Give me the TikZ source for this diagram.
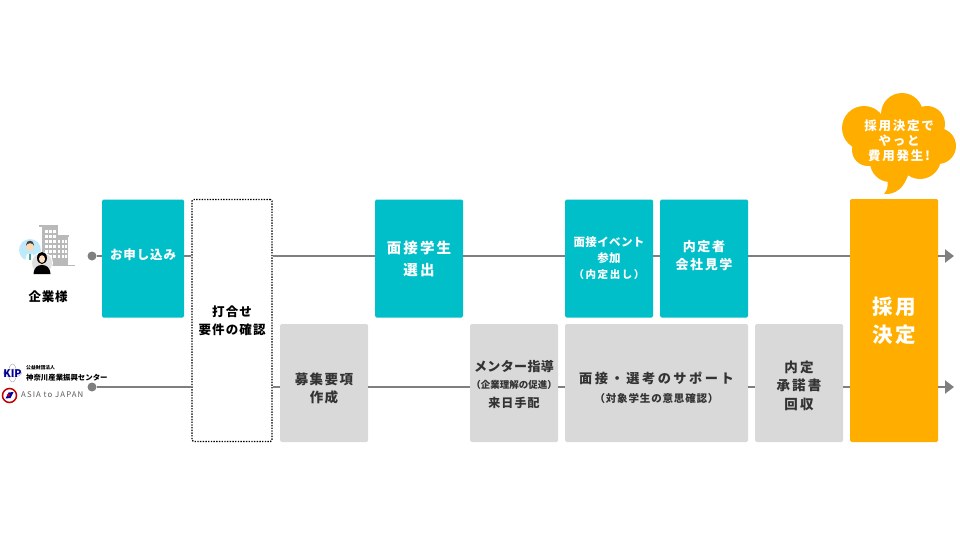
\documentclass[tikz,border=0pt]{standalone}
\usepackage{fontspec}
\setmainfont{Noto Sans CJK JP}
\usetikzlibrary{arrows.meta}
\definecolor{tealbox}{HTML}{00BFC9}
\definecolor{greybox}{HTML}{D9D9D9}
\definecolor{orangebox}{HTML}{FFAE00}
\definecolor{flowgrey}{HTML}{7F7F7F}
\definecolor{inkgrey}{HTML}{333333}
\newcommand{\myfontbox}[3]{\fontsize{#1}{#2}\selectfont\addfontfeature{LetterSpace=#3}\bfseries}
\tikzset{
	basebox/.style={minimum height=118pt,inner sep=0pt,rounded corners=1.5pt,align=center},
	tealcell/.style={basebox,minimum width=88pt,fill=tealbox,text=white},
	greycell/.style={basebox,minimum width=88pt,fill=greybox,text=inkgrey},
	flowline/.style={draw=flowgrey,line width=2.4pt},
	flowdot/.style={circle,fill=flowgrey,minimum size=9pt,inner sep=0pt},
}
\begin{document}
\begin{tikzpicture}[x=1pt,y=-1pt]
	\useasboundingbox (0,0) rectangle (960,540);
	%Start dots and free ends of the two flows
	\node [flowdot] (dotClient) at (92,256) {};
	\node [flowdot] (dotAgent) at (92,387) {};
	\coordinate (endClient) at (954,256);
	\coordinate (endAgent) at (954,387);
	%Upper row
	\node [tealcell,minimum width=82pt,font=\myfontbox{12.5}{18}{7}] (apply) at (143,258.5) {お申し込み\rule[-9pt]{0pt}{9pt}};
	\node [tealcell,font=\myfontbox{14.5}{22}{14}] (select) at (419,258.5) {面接学生\\選出};
	\node [tealcell,font=\myfontbox{11.5}{16}{3}] (event) at (609,258.5) {面接イベント\\参加\\{\fontsize{10.5}{16}\selectfont\addfontfeature{LetterSpace=15}（内定出し）}\rule[-2pt]{0pt}{2pt}};
	\node [tealcell,font=\myfontbox{13}{18}{12}] (visit) at (704,258.5) {内定者\\会社見学\rule[-8pt]{0pt}{8pt}};
	%Lower row
	\node [greycell,font=\myfontbox{13.5}{18}{11}] (recruit) at (324,383) {\rule{0pt}{22pt}募集要項\\作成};
	\node [greycell,font=\myfontbox{13}{17}{3}] (mentor) at (514,383) {\rule{0pt}{14pt}メンター指導\\{\fontsize{9.5}{16}\selectfont\addfontfeature{LetterSpace=0}（企業理解の促進）}\\[2pt]{\fontsize{12}{16}\selectfont\addfontfeature{LetterSpace=9}来日手配}};
	\node [greycell,minimum width=183pt,font=\myfontbox{13.2}{19}{19}] (support) at (656.5,383) {\rule{0pt}{21pt}面接・選考のサポート\\{\fontsize{10.5}{19}\selectfont\addfontfeature{LetterSpace=8}（対象学生の意思確認）}};
	\node [greycell,font=\myfontbox{13.5}{18.5}{16}] (accept) at (799,383) {\rule{0pt}{17pt}内定\\承諾書\\回収};
	%Tall boxes
	\node [basebox,minimum width=80pt,minimum height=242pt,draw=black,line width=1.2pt,dash pattern=on 1.4pt off 1.3pt,fill=white,text=black,font=\myfontbox{12.5}{18}{9}] (meeting) at (232,320.5) {打合せ\\要件の確認};
	\node [basebox,minimum width=88pt,minimum height=243pt,fill=orangebox,text=white,font=\myfontbox{20.5}{28}{14}] (decide) at (894,320.5) {採用\\決定};
	%Connectors between the boxes
	\foreach \a/\b in {dotClient/apply,apply/meeting,meeting/select,select/event,event/visit,visit/decide} {
		\draw [flowline] (\a.east |- dotClient) -- (\b.west |- dotClient);
	}
	\foreach \a/\b in {dotAgent/meeting,meeting/recruit,recruit/mentor,mentor/support,support/accept,accept/decide} {
		\draw [flowline] (\a.east |- dotAgent) -- (\b.west |- dotAgent);
	}
	\draw [flowline,-{Triangle[length=9pt,width=13pt]}] (decide.east |- endClient) -- (endClient);
	\draw [flowline,-{Triangle[length=9pt,width=13pt]}] (decide.east |- endAgent) -- (endAgent);
	%Speech cloud
	\fill [orangebox] (864,128) circle (22) (902,114) circle (21) (927,124) circle (18) (938,146) circle (18)
		(920,158) circle (21) (890,162) circle (20) (868,150) circle (16) (900,140) circle (32);
	\fill [orangebox] (886,172) .. controls (889,183) and (888,190) .. (884,194) .. controls (895,195) and (905,188) .. (909,172) -- cycle;
	\node [text=white,align=center,inner sep=0pt,font=\myfontbox{12.5}{15}{14}] (cloudText) at (899,141) {採用決定で\\やっと\\費用発生!};
	%Client icon
	\fill [gray!55] (39,225) rectangle (58,227);
	\fill [gray!55] (42,227) rectangle (58,265);
	\fill [gray!55] (54,235) rectangle (69,237);
	\fill [gray!55] (56,237) rectangle (68,265);
	\fill [gray!55] (45,264.5) rectangle (75,265.5);
	\foreach \x in {45,49,53} {
		\foreach \y in {230,235,...,255} {
			\fill [white] (\x,\y) rectangle ++(2.6,3);
		}
	}
	\foreach \x in {58,61.5,65} {
		\foreach \y in {240,245,...,255} {
			\fill [white] (\x,\y) rectangle ++(2,3);
		}
	}
	\fill [cyan!25] (30,250) circle (11);
	\fill [black!75] (30,244.5) circle (3.8);
	\fill [orange!30] (30,247) circle (3.8);
	\fill [white] (25,261) -- (35,261) -- (33,254) -- (27,254) -- cycle;
	\fill [teal!70] (29.3,254) rectangle (30.7,260);
	\fill [white] (42,263) circle (11);
	\fill [gray!25] (42,263) circle (10);
	\fill [black] (42,258) ellipse (5 and 6);
	\fill [orange!25] (42,259) ellipse (3 and 3.8);
	\fill [black] (33.5,274) .. controls (34,267) and (38,265) .. (42,265) .. controls (46,265) and (50,267) .. (50.5,274) -- cycle;
	\node [inner sep=0pt,text=black,font=\myfontbox{12.5}{15}{6}] (clientName) at (48,297) {企業様};
	%Agent logos
	\draw [gray!70,line width=0.4pt] (12.5,373) ellipse (9 and 4) (12.5,373) ellipse (4 and 9);
	\node [inner sep=0pt,text=blue!60!black,font=\myfontbox{10.5}{11}{0}] (logoKip) at (12.5,373.5) {KIP};
	\node [inner sep=0pt,anchor=west,text=black,font=\myfontbox{4.8}{6}{0}] (logoKipSmall) at (26,368) {公益財団法人};
	\node [inner sep=0pt,anchor=west,text=black,font=\myfontbox{7.4}{8}{0}] (logoKipName) at (26,377.6) {神奈川産業振興センター};
	\draw [red!75!black,line width=1.5pt,fill=white] (9.5,395.5) circle (7);
	\fill [blue!65!black] (5.5,398.5) -- (8.5,392.5) -- (13.5,392) -- (10.5,398) -- cycle;
	\fill [red!80!black] (8.5,395) circle (1.6);
	\node [inner sep=0pt,anchor=west,text=black!65,font=\fontsize{7.8}{8}\selectfont\addfontfeature{LetterSpace=14}] (logoAsia) at (21,395) {ASIA to JAPAN};
\end{tikzpicture}
\end{document}
